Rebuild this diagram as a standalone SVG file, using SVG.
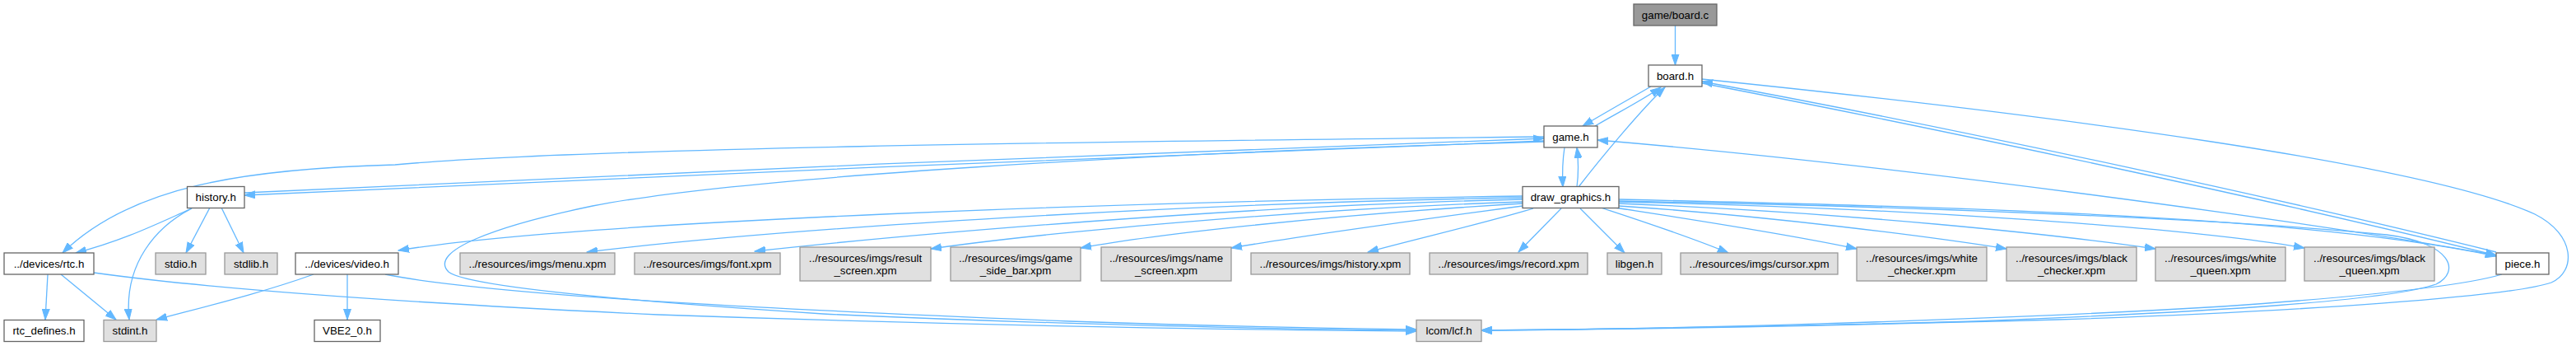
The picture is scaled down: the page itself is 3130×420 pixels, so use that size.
<svg xmlns="http://www.w3.org/2000/svg" width="3130" height="420" viewBox="0 0 3130 420">
<style>
.w{fill:#ffffff;stroke:#666666;stroke-width:1.3}
.g{fill:#e0e0e0;stroke:#999999;stroke-width:1.3}
.r{fill:#999999;stroke:#666666;stroke-width:1.3}
text{font-family:"Liberation Sans",Arial,Helvetica,sans-serif;font-size:13.3px;text-anchor:middle;fill:#000000}
#edges path{fill:none;stroke:#63b8ff;stroke-width:1.3;marker-end:url(#a)}
</style>
<defs>
<marker id="a" markerWidth="14" markerHeight="10" refX="13" refY="5" orient="auto" markerUnits="userSpaceOnUse">
<path d="M0,0.5 L13,5 L0,9.5 z" fill="#63b8ff" stroke="#63b8ff" stroke-width="1"/>
</marker>
</defs>
<rect width="3130" height="420" fill="#ffffff"/>
<g id="edges">
<path d="M2035.5,31 L2035.5,79"/>
<path d="M2006,105 C1980,120 1950,137 1923,153"/>
<path d="M1938,153 C1965,137 1995,122 2018,106"/>
<path d="M1918,227 C1945,192 1995,132 2023,106"/>
<path d="M1901,179 C1899,192 1898,208 1899,227"/>
<path d="M1916,227 C1918,212 1918,195 1916,179"/>
<path d="M1876,171 C1500,186 700,216 297,237"/>
<path d="M297,234 C700,213 1500,181 1876,168"/>
<path d="M1876,166 C1300,172 700,180 480,200 C300,205 160,225 76,307"/>
<path d="M1876,172 C1400,185 900,215 720,250 C600,275 520,305 545,330 C570,350 800,368 1000,381 C1300,395 1600,400 1721,401"/>
<path d="M233,253 C190,272 150,292 92,307"/>
<path d="M233,253 C190,275 150,320 157,388"/>
<path d="M255,252 L226,307"/>
<path d="M269,252 L296,307"/>
<path d="M58,333 L55,388"/>
<path d="M74,333 L141,388"/>
<path d="M114,331 C250,350 500,368 800,382 C1200,396 1550,401 1721,402"/>
<path d="M381,333 C320,355 250,372 190,388"/>
<path d="M422,333 L422,388"/>
<path d="M468,333 C600,360 1000,378 1300,390 C1500,397 1650,399 1721,400"/>
<path d="M3033,310 C2800,268 2300,200 1941,170"/>
<path d="M2068,101 C2400,165 2800,252 3033,310"/>
<path d="M3033,306 C2800,248 2400,160 2068,99"/>
<path d="M2068,96 C2500,140 2950,200 3080,260 C3130,285 3130,330 3100,343 C3050,360 2800,378 2500,388 C2200,396 1950,400 1800,401"/>
<path d="M3040,333 C3000,345 2900,358 2700,372 C2400,390 2000,400 1800,401"/>
<path d="M1967,244 C2300,250 2700,265 2900,285 C2980,295 2990,330 2960,345 C2900,365 2700,378 2400,390 C2100,398 1900,400 1800,401"/>
<path d="M1967,242 C2400,252 2800,262 3033,311"/>
<path d="M1967,245 C2300,252 2650,275 2800,301"/>
<path d="M1967,247 C2250,258 2500,285 2619,302"/>
<path d="M1967,250 C2150,262 2350,288 2438,302"/>
<path d="M1962,252 C2080,270 2200,290 2256,302"/>
<path d="M1945,252 C2000,270 2060,290 2100,307"/>
<path d="M1920,253 L1974,307"/>
<path d="M1897,253 L1845,306"/>
<path d="M1863,253 C1800,272 1720,290 1662,306"/>
<path d="M1850,250 C1700,270 1560,290 1496,301"/>
<path d="M1850,247 C1600,262 1400,285 1313,301"/>
<path d="M1850,245 C1550,255 1250,285 1131,302"/>
<path d="M1850,242 C1500,250 1100,285 917,305"/>
<path d="M1850,240 C1450,246 950,277 713,306"/>
<path d="M1850,238 C1400,244 700,268 484,304"/>
</g>
<g id="board_c"><rect class="r" x="1985" y="5" width="101" height="26"/><text x="2035.5" y="22.5">game/board.c</text></g>
<g id="board_h"><rect class="w" x="2003" y="79" width="65" height="26"/><text x="2035.5" y="96.5">board.h</text></g>
<g id="game_h"><rect class="w" x="1876" y="153" width="65" height="26"/><text x="1908.5" y="170.5">game.h</text></g>
<g id="history_h"><rect class="w" x="227.5" y="226.5" width="69.5" height="26"/><text x="262.25" y="244">history.h</text></g>
<g id="draw_graphics_h"><rect class="w" x="1850" y="226.5" width="117" height="26"/><text x="1908.5" y="244">draw_graphics.h</text></g>
<g id="rtc_h"><rect class="w" x="5" y="307" width="109" height="26"/><text x="59.5" y="324.5">../devices/rtc.h</text></g>
<g id="stdio_h"><rect class="g" x="189" y="307" width="61" height="26"/><text x="219.5" y="324.5">stdio.h</text></g>
<g id="stdlib_h"><rect class="g" x="273" y="307" width="64" height="26"/><text x="305" y="324.5">stdlib.h</text></g>
<g id="video_h"><rect class="w" x="359" y="307" width="125" height="26"/><text x="421.5" y="324.5">../devices/video.h</text></g>
<g id="menu_xpm"><rect class="g" x="559" y="307" width="188" height="26"/><text x="653" y="324.5">../resources/imgs/menu.xpm</text></g>
<g id="font_xpm"><rect class="g" x="771" y="307" width="177" height="26"/><text x="859.5" y="324.5">../resources/imgs/font.xpm</text></g>
<g id="result_screen_xpm"><rect class="g" x="972" y="300" width="159" height="41"/><text x="1051.5" y="318">../resources/imgs/result</text><text x="1051.5" y="333.3">_screen.xpm</text></g>
<g id="game_side_bar_xpm"><rect class="g" x="1155" y="300" width="158" height="41"/><text x="1234" y="318">../resources/imgs/game</text><text x="1234" y="333.3">_side_bar.xpm</text></g>
<g id="name_screen_xpm"><rect class="g" x="1338" y="300" width="158" height="41"/><text x="1417" y="318">../resources/imgs/name</text><text x="1417" y="333.3">_screen.xpm</text></g>
<g id="history_xpm"><rect class="g" x="1520" y="307" width="193" height="26"/><text x="1616.5" y="324.5">../resources/imgs/history.xpm</text></g>
<g id="record_xpm"><rect class="g" x="1737" y="307" width="192" height="26"/><text x="1833" y="324.5">../resources/imgs/record.xpm</text></g>
<g id="libgen_h"><rect class="g" x="1953" y="307" width="66" height="26"/><text x="1986" y="324.5">libgen.h</text></g>
<g id="cursor_xpm"><rect class="g" x="2042" y="307" width="191" height="26"/><text x="2137.5" y="324.5">../resources/imgs/cursor.xpm</text></g>
<g id="white_checker_xpm"><rect class="g" x="2256" y="300" width="158" height="41"/><text x="2335" y="318">../resources/imgs/white</text><text x="2335" y="333.3">_checker.xpm</text></g>
<g id="black_checker_xpm"><rect class="g" x="2438" y="300" width="158" height="41"/><text x="2517" y="318">../resources/imgs/black</text><text x="2517" y="333.3">_checker.xpm</text></g>
<g id="white_queen_xpm"><rect class="g" x="2619" y="300" width="158" height="41"/><text x="2698" y="318">../resources/imgs/white</text><text x="2698" y="333.3">_queen.xpm</text></g>
<g id="black_queen_xpm"><rect class="g" x="2800" y="300" width="158" height="41"/><text x="2879" y="318">../resources/imgs/black</text><text x="2879" y="333.3">_queen.xpm</text></g>
<g id="piece_h"><rect class="w" x="3033" y="307" width="64" height="26"/><text x="3065" y="324.5">piece.h</text></g>
<g id="rtc_defines_h"><rect class="w" x="5" y="388.5" width="97" height="26"/><text x="53.5" y="406">rtc_defines.h</text></g>
<g id="stdint_h"><rect class="g" x="126" y="388.5" width="64" height="26"/><text x="158" y="406">stdint.h</text></g>
<g id="VBE2_0_h"><rect class="w" x="382" y="388.5" width="80" height="26"/><text x="422" y="406">VBE2_0.h</text></g>
<g id="lcf_h"><rect class="g" x="1721" y="388.5" width="79" height="26"/><text x="1760.5" y="406">lcom/lcf.h</text></g>
</svg>
